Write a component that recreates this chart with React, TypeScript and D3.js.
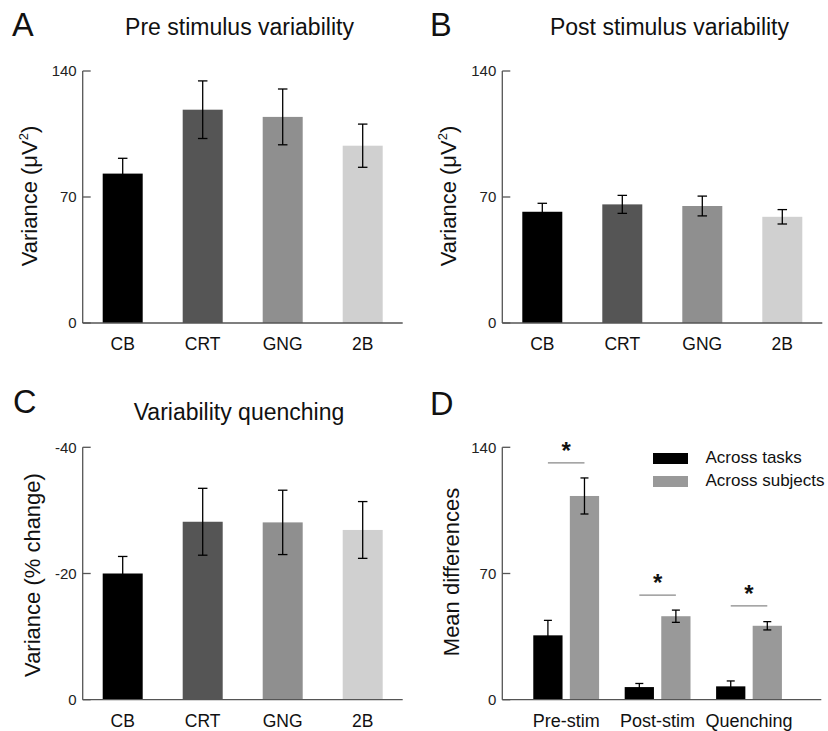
import React from 'react';
import * as d3 from 'd3';

// ---------- data ----------
const categories = ['CB', 'CRT', 'GNG', '2B'];
const barColors = ['#000000', '#555555', '#8f8f8f', '#d0d0d0'];

const preMean = [83, 118.5, 114.5, 98.5];
const preErr = [8.5, 16, 15.5, 12];
const postMean = [61.8, 65.9, 65, 59];
const postErr = [4.7, 5, 5.5, 4];
const quenchMean = [-20, -28.2, -28.1, -26.9];
const quenchErr = [2.7, 5.3, 5.1, 4.5];

const varTicks = [0, 70, 140];
const quenchTicks = [0, -20, -40];

const diffGroups = ['Pre-stim', 'Post-stim', 'Quenching'];
const diffSeries = ['Across tasks', 'Across subjects'];
const diffColors = ['#000000', '#999999'];
const tasksMean = [35.7, 7, 7.4];
const tasksErr = [8.3, 2, 3];
const subjectsMean = [113, 46.3, 41];
const subjectsErr = [10, 3.4, 2.3];
const sigLevel = [131.4, 58, 52];
const diffTicks = [0, 70, 140];

const FONT = '"Liberation Sans", Arial, Helvetica, sans-serif';
const AXIS = '#555555';
const TXT = '#111111';

type Box = { x0: number; x1: number; yTop: number; yBottom: number };

function YAxis({ box, y, ticks }: { box: Box; y: d3.ScaleLinear<number, number>; ticks: number[] }) {
  return (
    <g>
      <line x1={box.x0} x2={box.x0} y1={box.yTop} y2={box.yBottom} stroke={AXIS} strokeWidth={1.3} />
      <line x1={box.x0} x2={box.x1} y1={box.yBottom} y2={box.yBottom} stroke={AXIS} strokeWidth={1.3} />
      {ticks.map((t) => (
        <g key={t}>
          <line x1={box.x0} x2={box.x0 + 8} y1={y(t)} y2={y(t)} stroke={AXIS} strokeWidth={1.3} />
          <text x={box.x0 - 6} y={y(t)} dy="0.35em" textAnchor="end" fontSize={15} fill="#222" fontFamily={FONT}>
            {t}
          </text>
        </g>
      ))}
    </g>
  );
}

function ErrBar({ cx, v, e, y, cap, color = '#000000' }: any) {
  const top = y(v + e);
  const bot = y(v - e);
  return (
    <g stroke={color} strokeWidth={1.3}>
      <line x1={cx} x2={cx} y1={top} y2={bot} />
      <line x1={cx - cap / 2} x2={cx + cap / 2} y1={top} y2={top} />
      <line x1={cx - cap / 2} x2={cx + cap / 2} y1={bot} y2={bot} />
    </g>
  );
}

function TaskPanel({ box, domain, ticks, means, errs, negative }: any) {
  const x = d3.scaleBand<string>().domain(categories).range([box.x0, box.x1]).paddingInner(0.5).paddingOuter(0.25);
  const y = d3.scaleLinear().domain(domain).range([box.yBottom, box.yTop]);
  const sign = negative ? -1 : 1;
  return (
    <g>
      {categories.map((c, i) => {
        const yv = y(means[i]);
        const y0 = y(0);
        return (
          <rect
            key={c}
            x={x(c)}
            width={x.bandwidth()}
            y={Math.min(yv, y0)}
            height={Math.abs(y0 - yv)}
            fill={barColors[i]}
          />
        );
      })}
      {categories.map((c, i) => (
        <ErrBar key={c} cx={(x(c) as number) + x.bandwidth() / 2} v={means[i]} e={sign * errs[i]} y={y} cap={9.5} />
      ))}
      <YAxis box={box} y={y} ticks={ticks} />
      {categories.map((c) => (
        <text
          key={c}
          x={(x(c) as number) + x.bandwidth() / 2}
          y={box.yBottom + 27}
          textAnchor="middle"
          fontSize={17.5}
          fill={TXT}
          fontFamily={FONT}
        >
          {c}
        </text>
      ))}
    </g>
  );
}

function DiffPanel({ box }: { box: Box }) {
  const x0 = d3.scaleBand<string>().domain(diffGroups).range([box.x0 + 12.7, box.x0 + 297.9]).paddingInner(0.28).paddingOuter(0.2);
  const x1 = d3.scaleBand<string>().domain(diffSeries).range([0, x0.bandwidth()]).paddingInner(0.2).paddingOuter(0);
  const y = d3.scaleLinear().domain([0, 140]).range([box.yBottom, box.yTop]);
  const means = [tasksMean, subjectsMean];
  const errs = [tasksErr, subjectsErr];
  return (
    <g>
      {diffGroups.map((g, gi) => (
        <g key={g} transform={`translate(${x0(g)},0)`}>
          {diffSeries.map((s, si) => (
            <rect
              key={s}
              x={x1(s)}
              width={x1.bandwidth()}
              y={y(means[si][gi])}
              height={y(0) - y(means[si][gi])}
              fill={diffColors[si]}
            />
          ))}
          {diffSeries.map((s, si) => (
            <ErrBar
              key={s}
              cx={(x1(s) as number) + x1.bandwidth() / 2}
              v={means[si][gi]}
              e={errs[si][gi]}
              y={y}
              cap={8}
            />
          ))}
          <line
            x1={(x1(diffSeries[0]) as number) + x1.bandwidth() / 2}
            x2={(x1(diffSeries[1]) as number) + x1.bandwidth() / 2}
            y1={y(sigLevel[gi])}
            y2={y(sigLevel[gi])}
            stroke="#888"
            strokeWidth={1.3}
          />
          <text
            x={x0.bandwidth() / 2}
            y={y(sigLevel[gi]) - 4}
            textAnchor="middle"
            fontSize={24}
            fontWeight="bold"
            fill={TXT}
            fontFamily={FONT}
          >
            *
          </text>
          <text x={x0.bandwidth() / 2} y={box.yBottom + 27} textAnchor="middle" fontSize={18} fill={TXT} fontFamily={FONT}>
            {g}
          </text>
        </g>
      ))}
      <YAxis box={box} y={y} ticks={diffTicks} />
      {diffSeries.map((s, si) => (
        <g key={s}>
          <rect x={653} y={453 + si * 23} width={35} height={11} fill={diffColors[si]} />
          <text x={705.5} y={463 + si * 22.5} fontSize={17} fill={TXT} fontFamily={FONT}>
            {s}
          </text>
        </g>
      ))}
    </g>
  );
}

function VarLabel({ x, y }: { x: number; y: number }) {
  return (
    <text transform={`translate(${x},${y}) rotate(-90)`} textAnchor="middle" fontSize={22} fill={TXT} fontFamily={FONT}>
      Variance (μV<tspan fontSize={13} dy={-9}>2</tspan>
      <tspan dy={9}>)</tspan>
    </text>
  );
}

export default function App() {
  const boxA: Box = { x0: 82.7, x1: 402.7, yTop: 71, yBottom: 323 };
  const boxB: Box = { x0: 502.3, x1: 822.3, yTop: 71, yBottom: 323 };
  const boxC: Box = { x0: 82.7, x1: 402.7, yTop: 447.3, yBottom: 699.7 };
  const boxD: Box = { x0: 502.3, x1: 821.3, yTop: 447.3, yBottom: 699.7 };
  return (
    <svg
      width={828}
      height={731}
      style={{ position: 'absolute', left: 0, top: 0, background: '#fff' }}
      fontFamily={FONT}
    >
      <rect width={828} height={731} fill="#fff" />
      {/* panel letters */}
      <text x={12} y={36} fontSize={32.5} fill={TXT}>A</text>
      <text x={430} y={36} fontSize={32.5} fill={TXT}>B</text>
      <text x={13} y={413} fontSize={32.5} fill={TXT}>C</text>
      <text x={430} y={415} fontSize={32.5} fill={TXT}>D</text>
      {/* titles */}
      <text x={239.5} y={35} textAnchor="middle" fontSize={23} fill={TXT}>Pre stimulus variability</text>
      <text x={669.5} y={35} textAnchor="middle" fontSize={23} fill={TXT}>Post stimulus variability</text>
      <text x={239} y={420} textAnchor="middle" fontSize={23} fill={TXT}>Variability quenching</text>

      <TaskPanel box={boxA} domain={[0, 140]} ticks={varTicks} means={preMean} errs={preErr} />
      <TaskPanel box={boxB} domain={[0, 140]} ticks={varTicks} means={postMean} errs={postErr} />
      <TaskPanel box={boxC} domain={[0, -40]} ticks={quenchTicks} means={quenchMean} errs={quenchErr} negative />
      <DiffPanel box={boxD} />

      <VarLabel x={37} y={196} />
      <VarLabel x={456} y={196} />
      <text transform="translate(40,575) rotate(-90)" textAnchor="middle" fontSize={22} fill={TXT}>
        Variance (% change)
      </text>
      <text transform="translate(458.5,572) rotate(-90)" textAnchor="middle" fontSize={22} fill={TXT}>
        Mean differences
      </text>
    </svg>
  );
}
